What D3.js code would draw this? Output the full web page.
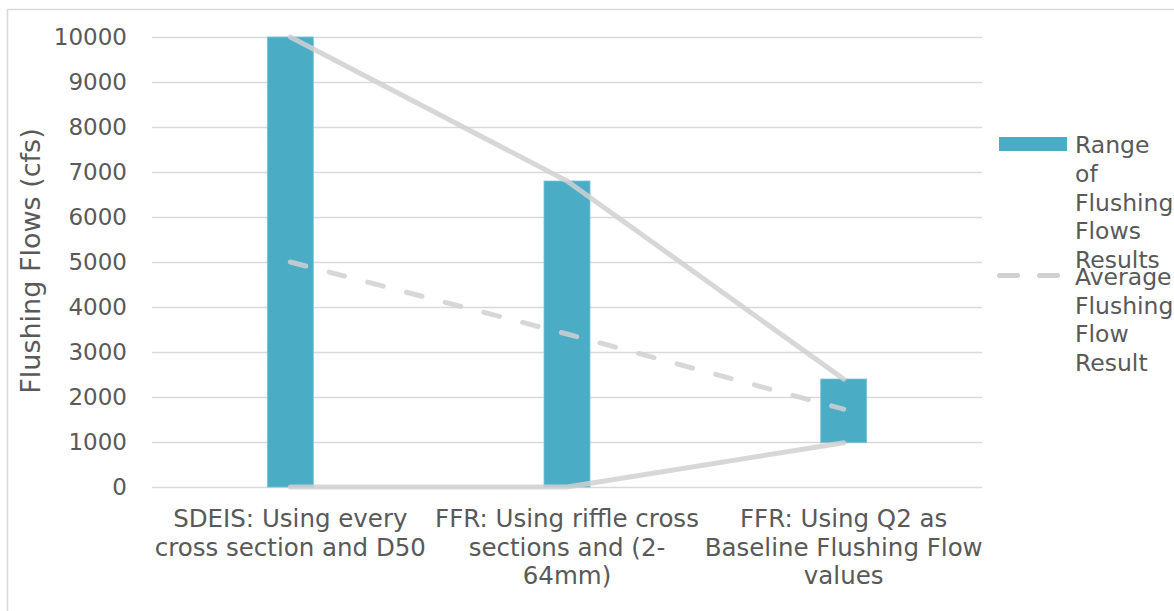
<!DOCTYPE html>
<html>
<head>
<meta charset="utf-8">
<script src="https://cdn.jsdelivr.net/npm/d3@7"></script>
<style>
  html, body { margin: 0; padding: 0; background: #fff; }
  svg { display: block; }
  text { font-family: "DejaVu Sans", Verdana, sans-serif; fill: #595959; }
</style>
</head>
<body>
<svg id="chart" width="1174" height="611"></svg>
<script>
// ---- Data ----
const categories = [
  "SDEIS: Using every cross section and D50",
  "FFR: Using riffle cross sections and (2-64mm)",
  "FFR: Using Q2 as Baseline Flushing Flow values"
];
const categoryLabelLines = [
  ["SDEIS: Using every", "cross section and D50"],
  ["FFR: Using riffle cross", "sections and (2-", "64mm)"],
  ["FFR: Using Q2 as", "Baseline Flushing Flow", "values"]
];
const rangeMin = [0, 0, 985];
const rangeMax = [10000, 6800, 2400];
const averageValues = [5000, 3400, 1730];
const yTicks = [0, 1000, 2000, 3000, 4000, 5000, 6000, 7000, 8000, 9000, 10000];
const legendRangeLines = ["Range", "of", "Flushing", "Flows", "Results"];
const legendAvgLines = ["Average", "Flushing", "Flow", "Result"];
const yTitle = "Flushing Flows (cfs)";

// ---- Layout ----
const svg = d3.select("#chart");
const plot = { left: 152, right: 982, top: 37, bottom: 487 };
const fontSize = 23;
const textColor = "#595959";
const gridColor = "#d9d9d9";
const barColor = "#4bacc6";
const lineColor = "#d0d0d0";

// outer border
svg.append("rect")
  .attr("x", 7.5).attr("y", 9.5)
  .attr("width", 1200).attr("height", 700)
  .attr("fill", "none").attr("stroke", gridColor).attr("stroke-width", 1.5);

const x = d3.scaleBand().domain(categories).range([plot.left, plot.right]).padding(0);
const y = d3.scaleLinear().domain([0, 10000]).range([plot.bottom, plot.top]);
const cx = c => x(c) + x.bandwidth() / 2;

// gridlines + tick labels
const yAxis = d3.axisLeft(y).tickValues(yTicks).tickSize(-(plot.right - plot.left)).tickPadding(25).tickFormat(d3.format("d"));
const gAxis = svg.append("g").attr("transform", `translate(${plot.left},0)`).call(yAxis);
gAxis.select(".domain").remove();
gAxis.selectAll(".tick line").attr("stroke", gridColor).attr("stroke-width", 1.5);
gAxis.selectAll(".tick text")
  .attr("font-size", fontSize).attr("fill", textColor)
  .attr("font-family", '"DejaVu Sans", Verdana, sans-serif');

// bars (floating range)
const barW = 46;
svg.append("g").selectAll("rect")
  .data(categories)
  .join("rect")
  .attr("x", d => cx(d) - barW / 2)
  .attr("width", barW)
  .attr("y", (d, i) => y(rangeMax[i]))
  .attr("height", (d, i) => y(rangeMin[i]) - y(rangeMax[i]))
  .attr("fill", barColor)
  .attr("stroke", "#7cc3d6").attr("stroke-width", 0.8);

// lines
const lineGen = d3.line().x(d => cx(d.c)).y(d => y(d.v));
const mk = arr => categories.map((c, i) => ({ c, v: arr[i] }));

[rangeMax, rangeMin].forEach(arr => {
  svg.append("path")
    .attr("d", lineGen(mk(arr)))
    .attr("fill", "none")
    .attr("stroke", lineColor).attr("stroke-opacity", 0.85)
    .attr("stroke-width", 5)
    .attr("stroke-linecap", "round").attr("stroke-linejoin", "round");
});
svg.append("path")
  .attr("d", lineGen(mk(averageValues)))
  .attr("fill", "none")
  .attr("stroke", lineColor).attr("stroke-opacity", 0.85)
  .attr("stroke-width", 5)
  .attr("stroke-dasharray", "16,24")
  .attr("stroke-linecap", "round");

// x labels
const xl = svg.append("g");
categories.forEach((c, i) => {
  const t = xl.append("text")
    .attr("text-anchor", "middle")
    .attr("font-size", 24.5)
    .attr("fill", textColor);
  categoryLabelLines[i].forEach((ln, j) => {
    t.append("tspan").attr("x", cx(c)).attr("y", 527 + j * 28.5).text(ln);
  });
});

// y title
svg.append("text")
  .attr("transform", "translate(40,261) rotate(-90)")
  .attr("text-anchor", "middle")
  .attr("font-size", 27)
  .attr("fill", textColor)
  .text(yTitle);

// legend
const lg = svg.append("g");
lg.append("rect").attr("x", 999).attr("y", 137).attr("width", 68).attr("height", 14).attr("fill", barColor);
legendRangeLines.forEach((ln, j) => {
  lg.append("text").attr("x", 1075).attr("y", 153 + j * 28.8).attr("font-size", 23.5).attr("fill", textColor).text(ln);
});
lg.append("line")
  .attr("x1", 999.5).attr("x2", 1061).attr("y1", 275.5).attr("y2", 275.5)
  .attr("stroke", lineColor).attr("stroke-width", 5)
  .attr("stroke-dasharray", "18,22").attr("stroke-linecap", "round");
legendAvgLines.forEach((ln, j) => {
  lg.append("text").attr("x", 1075).attr("y", 285 + j * 28.6).attr("font-size", 23.5).attr("fill", textColor).text(ln);
});
</script>
</body>
</html>
